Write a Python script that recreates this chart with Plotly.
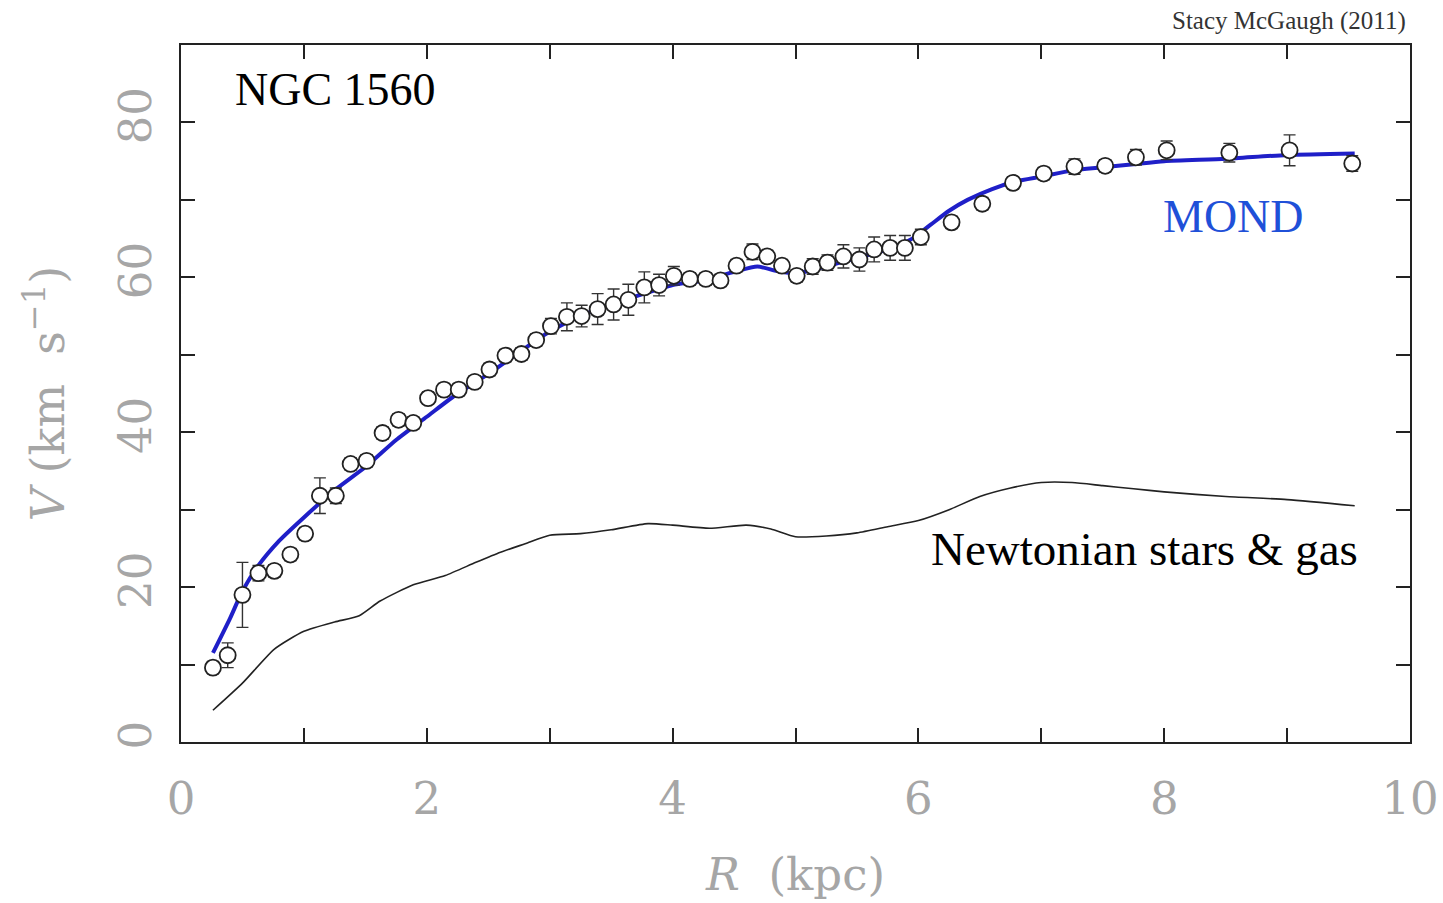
import plotly.graph_objects as go

# Observed rotation curve (R in kpc, V in km/s, error in km/s)
obs_R = [0.26, 0.38, 0.50, 0.63, 0.76, 0.89, 1.01, 1.13, 1.26, 1.38, 1.51, 1.64, 1.77, 1.89,
         2.01, 2.14, 2.26, 2.39, 2.51, 2.64, 2.77, 2.89, 3.01, 3.14, 3.26, 3.39, 3.52, 3.64,
         3.77, 3.89, 4.01, 4.14, 4.27, 4.39, 4.52, 4.65, 4.77, 4.89, 5.01, 5.14, 5.26, 5.39,
         5.52, 5.64, 5.77, 5.89, 6.02, 6.27, 6.52, 6.77, 7.02, 7.27, 7.52, 7.77, 8.02, 8.53,
         9.02, 9.53]
obs_V = [9.6, 11.2, 19.0, 21.8, 22.1, 24.2, 26.9, 31.8, 31.8, 35.9, 36.3, 39.9, 41.6, 41.2,
         44.4, 45.5, 45.5, 46.5, 48.1, 49.9, 50.1, 51.9, 53.7, 54.9, 55.0, 55.9, 56.5, 57.1,
         58.7, 59.0, 60.2, 59.8, 59.8, 59.6, 61.5, 63.3, 62.7, 61.5, 60.2, 61.4, 61.9, 62.7,
         62.3, 63.6, 63.8, 63.8, 65.2, 67.1, 69.5, 72.2, 73.4, 74.3, 74.4, 75.5, 76.4, 76.1,
         76.4, 74.7]
obs_err = [0.8, 1.6, 4.2, 1.0, 0.8, 0.8, 0.8, 2.3, 1.0, 0.8, 0.8, 0.8, 0.8, 0.8,
           0.8, 0.8, 0.8, 0.8, 0.8, 0.8, 0.8, 0.8, 1.0, 1.8, 1.4, 2.0, 2.0, 2.0,
           2.0, 1.4, 1.2, 0.8, 0.8, 0.8, 0.8, 1.0, 0.8, 0.8, 0.8, 1.0, 1.0, 1.5,
           1.5, 1.6, 1.6, 1.6, 1.0, 0.8, 0.8, 0.8, 0.8, 1.0, 0.8, 1.0, 1.2, 1.2,
           2.0, 1.0]

# MOND fit curve
mond_R = [0.26, 0.40, 0.50, 0.63, 0.80, 1.00, 1.25, 1.50, 1.75, 2.00, 2.25, 2.50, 2.75, 3.00,
          3.25, 3.50, 3.75, 4.00, 4.25, 4.50, 4.69, 4.85, 5.00, 5.25, 5.50, 5.75, 5.95, 6.10,
          6.25, 6.40, 6.60, 6.80, 7.00, 7.25, 7.50, 7.75, 8.00, 8.50, 9.00, 9.55]
mond_V = [11.5, 16.0, 19.5, 22.8, 26.0, 29.0, 32.5, 35.5, 39.0, 42.0, 45.0, 47.5, 50.3, 53.0,
          55.0, 56.5, 57.8, 59.0, 59.6, 60.7, 61.4, 60.8, 60.5, 61.4, 62.5, 63.6, 65.0, 66.8,
          68.6, 70.0, 71.4, 72.4, 73.0, 73.8, 74.2, 74.6, 75.0, 75.3, 75.8, 76.0]

# Newtonian (stars & gas) curve
newt_R = [0.26, 0.50, 0.76, 1.00, 1.25, 1.45, 1.62, 1.89, 2.15, 2.40, 2.60, 2.80, 3.00, 3.25,
          3.50, 3.80, 4.00, 4.30, 4.60, 4.80, 5.00, 5.25, 5.50, 5.75, 6.00, 6.25, 6.50, 6.75,
          7.00, 7.25, 7.50, 7.75, 8.00, 8.50, 9.00, 9.55]
newt_V = [4.1, 7.6, 12.0, 14.3, 15.5, 16.3, 18.2, 20.3, 21.5, 23.2, 24.5, 25.6, 26.7, 26.9,
          27.4, 28.2, 28.0, 27.6, 28.0, 27.5, 26.5, 26.6, 27.0, 27.8, 28.6, 30.0, 31.7, 32.8,
          33.5, 33.5, 33.1, 32.7, 32.3, 31.7, 31.3, 30.5]

x_tickvals = [0, 1, 2, 3, 4, 5, 6, 7, 8, 9, 10]
x_ticktext = ["0", "", "2", "", "4", "", "6", "", "8", "", "10"]
y_tickvals = [0, 10, 20, 30, 40, 50, 60, 70, 80, 90]
y_ticktext = ["0", "", "20", "", "40", "", "60", "", "80", ""]

# the page body margin is removed (post_script), so the figure fills the window
W, H = 1443, 903
L, T = 181, 45
R_EDGE, B_EDGE = 1410, 742

fig = go.Figure()
fig.add_trace(go.Scatter(x=newt_R, y=newt_V, mode="lines",
                         line=dict(color="#222222", width=1.6, shape="spline", smoothing=0.6),
                         hoverinfo="skip"))
fig.add_trace(go.Scatter(x=mond_R, y=mond_V, mode="lines",
                         line=dict(color="#1f1fc8", width=4, shape="spline", smoothing=0.6),
                         hoverinfo="skip"))
fig.add_trace(go.Scatter(x=obs_R, y=obs_V, mode="markers",
                         marker=dict(symbol="circle", size=16, color="white",
                                     line=dict(color="#222222", width=1.8)),
                         error_y=dict(type="data", array=obs_err, visible=True,
                                      color="#333333", thickness=1.4, width=6)))

gray = "#a6a6a6"
tick_font = dict(family="DejaVu Serif", size=45, color=gray)
fig.update_xaxes(range=[0, 10], tickvals=x_tickvals, ticktext=x_ticktext,
                 ticks="inside", ticklen=14, tickwidth=2, tickcolor="#222222",
                 showline=True, linecolor="#222222", linewidth=2, mirror="ticks",
                 showgrid=False, zeroline=False, tickfont=tick_font,
                 ticklabelstandoff=16, ticklabeloverflow="allow",
                 title=dict(text="<i>R</i>&nbsp; (kpc)",
                            font=dict(family="DejaVu Serif", size=45, color=gray), standoff=34))
fig.update_yaxes(range=[0, 90], tickvals=y_tickvals, ticktext=y_ticktext,
                 ticks="inside", ticklen=14, tickwidth=2, tickcolor="#222222",
                 showline=True, linecolor="#222222", linewidth=2, mirror="ticks",
                 showgrid=False, zeroline=False, tickfont=tick_font, tickangle=-90,
                 ticklabelstandoff=10, ticklabeloverflow="allow",
                 title=dict(text="<i>V</i> (km&nbsp; s<sup>−1</sup>)",
                            font=dict(family="DejaVu Serif", size=46, color=gray),
                            standoff=30))

serif = "Liberation Serif"
fig.add_annotation(x=0.42, y=84.2, xref="x", yref="y", text="NGC 1560", showarrow=False,
                   xanchor="left", yanchor="middle", font=dict(family=serif, size=46, color="black"))
fig.add_annotation(x=8.56, y=67.8, xref="x", yref="y", text="MOND", showarrow=False,
                   xanchor="center", yanchor="middle", font=dict(family=serif, size=46, color="#1f50d8"))
fig.add_annotation(x=9.59, y=24.9, xref="x", yref="y", text="Newtonian stars &amp; gas",
                   showarrow=False, xanchor="right", yanchor="middle",
                   font=dict(family=serif, size=47, color="black"))
plot_w = R_EDGE - L
plot_h = B_EDGE - T
fig.add_annotation(x=(1408 - L) / plot_w, y=1 + (45 - 21) / plot_h,
                   xref="paper", yref="paper",
                   text="Stacy McGaugh (2011)", showarrow=False, xanchor="right", yanchor="middle",
                   font=dict(family=serif, size=25, color="#333333"))

fig.update_layout(width=W, height=H, showlegend=False,
                  paper_bgcolor="white", plot_bgcolor="white",
                  margin=dict(l=L, r=W - R_EDGE, t=T, b=H - B_EDGE, autoexpand=False))

fig.write_html("out.html", config={"displayModeBar": False},
               post_script="document.body.style.margin='0';document.body.style.overflow='hidden';")
